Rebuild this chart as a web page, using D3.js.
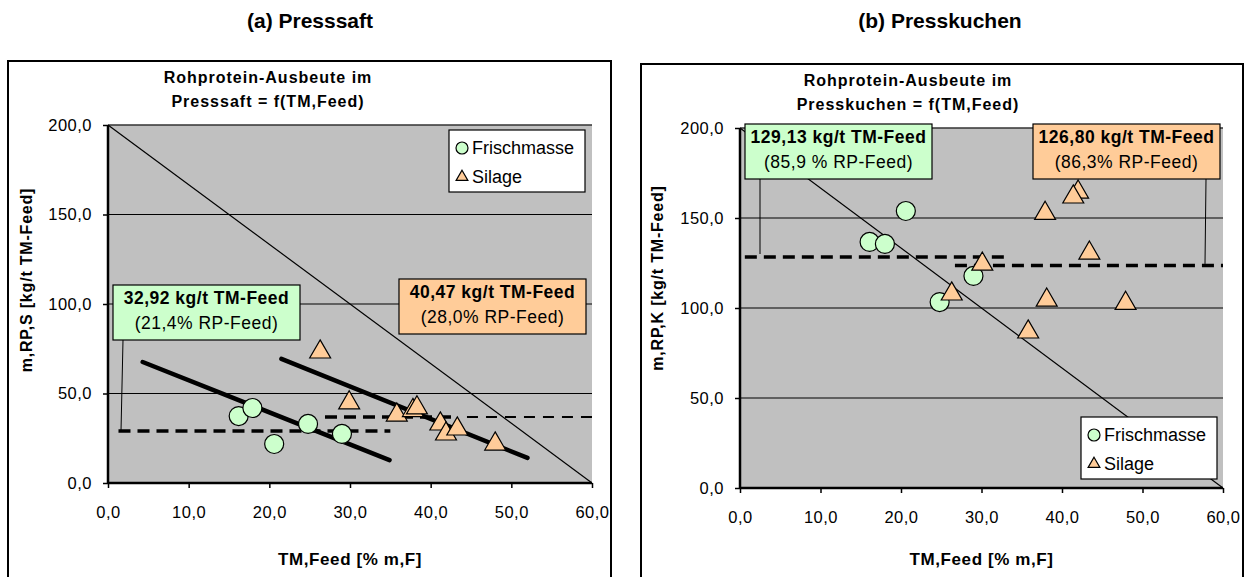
<!DOCTYPE html>
<html>
<head>
<meta charset="utf-8">
<script src="https://cdn.jsdelivr.net/npm/d3@7"></script>
<style>
  body { margin: 0; background: #fff; }
  text { font-family: "Liberation Sans", Arial, sans-serif; }
</style>
</head>
<body>
<div id="wrapper"></div>
<script>
// values
const xTicks = [0, 10, 20, 30, 40, 50, 60];
const yTicks = [0, 50, 100, 150, 200];

// (a) Presssaft
const saftFrisch = [[16.2, 37.4], [17.9, 41.9], [20.6, 21.8], [24.8, 33.0], [29.0, 27.4]];
const saftSilage = [[26.3, 73.2], [29.9, 44.8], [35.8, 38.0], [37.8, 40.5], [38.3, 42.0],
  [41.2, 33.0], [41.9, 27.4], [43.3, 30.2], [48.0, 21.8]];
const saftTrendFrisch = [[4.3, 67.6], [34.9, 12.8]];
const saftTrendSilage = [[21.5, 69.3], [52.0, 14.0]];
const saftMeanFrisch = [[1.3, 29.0], [35.0, 29.0]];
const saftMeanSilage = [[26.9, 36.9], [43.3, 36.9]];
const saftMeanSilageExt = [[44.5, 36.9], [60, 36.9]];

// (b) Presskuchen
const kuchenFrisch = [[20.6, 153.9], [16.1, 136.7], [18.0, 135.6], [29.0, 117.8], [24.8, 103.3]];
const kuchenSilage = [[42.0, 164.4], [41.4, 161.7], [37.9, 152.6], [43.4, 130.5], [30.1, 124.4],
  [26.3, 107.8], [38.1, 104.4], [47.9, 102.6], [35.8, 86.7]];
const kuchenMeanFrisch = [[0.6, 128.3], [33.5, 128.3]];
const kuchenMeanSilage = [[26.7, 123.6], [60, 123.6]];

const diagonal = [[0, 200], [60, 0]];

const green = "#ccffcc";
const orange = "#ffcc99";
const fmt = d => d3.format(".1f")(d).replace(".", ",");

const svg = d3.select("#wrapper")
  .append("svg")
  .attr("width", 1253)
  .attr("height", 577);

function drawPanel(p) {
  const g = svg.append("g");

  g.append("text")
    .attr("x", p.headX).attr("y", 28)
    .attr("text-anchor", "middle")
    .style("font-size", "21px").style("font-weight", "bold")
    .text(p.head);

  g.append("rect")
    .attr("x", p.frame[0]).attr("y", p.frame[1])
    .attr("width", p.frame[2] - p.frame[0]).attr("height", 600)
    .attr("fill", "#fff").attr("stroke", "#000").attr("stroke-width", 2);

  const x = d3.scaleLinear().domain([0, 60]).range([p.left, p.right]);
  const y = d3.scaleLinear().domain([0, 200]).range([p.bottom, p.top]);

  // chart title
  p.title.forEach((t, i) => {
    g.append("text")
      .attr("x", p.titleX).attr("y", p.titleY + i * 24)
      .attr("text-anchor", "middle")
      .style("font-size", "16px").style("font-weight", "bold")
      .style("letter-spacing", "1px")
      .text(t);
  });

  g.append("rect")
    .attr("x", x(0)).attr("y", y(200))
    .attr("width", x(60) - x(0)).attr("height", y(0) - y(200))
    .attr("fill", "#c0c0c0");

  // gridlines
  g.selectAll(".grid")
    .data(yTicks.filter(d => d > 0))
    .enter()
    .append("line")
    .attr("x1", x(0)).attr("x2", x(60))
    .attr("y1", d => y(d)).attr("y2", d => y(d))
    .attr("stroke", d => d === 200 ? "#333" : "#000")
    .attr("stroke-width", d => d === 200 ? 1.5 : 1);

  const xAxis = g.append("g")
    .attr("transform", `translate(0,${y(0)})`)
    .call(d3.axisBottom(x).tickValues(xTicks).tickFormat(fmt).tickSize(5).tickPadding(18));
  const yAxis = g.append("g")
    .attr("transform", `translate(${x(0)},0)`)
    .call(d3.axisLeft(y).tickValues(yTicks).tickFormat(fmt).tickSize(5).tickPadding(11));
  [xAxis, yAxis].forEach(a => {
    a.select(".domain").attr("stroke", "#000").attr("stroke-width", 2.5);
    a.selectAll(".tick line").attr("stroke", "#000").attr("stroke-width", 1.5);
    a.selectAll(".tick text")
      .style("font-size", "16.5px").attr("fill", "#000")
      .style("letter-spacing", "0.5px")
      .style("font-family", "'Liberation Sans', Arial, sans-serif");
  });
  xAxis.select(".domain").attr("d", `M${x(0)},0H${x(60)}`);
  yAxis.select(".domain").attr("d", `M0,${y(0)}V${y(200)}`);

  g.append("text")
    .attr("x", (x(0) + x(60)) / 2).attr("y", 565)
    .attr("text-anchor", "middle")
    .style("font-size", "17px").style("font-weight", "bold")
    .style("letter-spacing", "0.6px")
    .text("TM,Feed [% m,F]");

  g.append("text")
    .attr("transform", `translate(${p.yLabelX},${p.yLabelY}) rotate(-90)`)
    .attr("text-anchor", "middle")
    .style("font-size", "16px").style("font-weight", "bold")
    .style("letter-spacing", "0.8px")
    .text(p.yLabel);

  const line = d3.line().x(d => x(d[0])).y(d => y(d[1]));

  g.append("path").attr("d", line(diagonal))
    .attr("fill", "none").attr("stroke", "#000").attr("stroke-width", 1.2);

  p.lines.forEach(l => {
    g.append("path").attr("d", line(l.data))
      .attr("fill", "none").attr("stroke", "#000")
      .attr("stroke-width", l.w)
      .attr("stroke-dasharray", l.dash || null)
      .attr("stroke-linecap", l.dash ? "butt" : "round");
  });

  // label boxes with leader lines
  p.boxes.forEach(b => {
    if (b.leader) {
      g.append("line")
        .attr("x1", b.leader[0]).attr("y1", b.y + 55)
        .attr("x2", b.leader[1]).attr("y2", y(b.leader[2]))
        .attr("stroke", "#000").attr("stroke-width", 1);
    }
    g.append("rect")
      .attr("x", b.x).attr("y", b.y).attr("width", b.w).attr("height", 55)
      .attr("fill", b.fill).attr("stroke", "#000").attr("stroke-width", 1.2);
    g.append("text")
      .attr("x", b.x + b.w / 2).attr("y", b.y + 19)
      .attr("text-anchor", "middle")
      .style("font-size", "17.5px").style("font-weight", "bold")
      .style("letter-spacing", "0.5px")
      .text(b.t1);
    g.append("text")
      .attr("x", b.x + b.w / 2).attr("y", b.y + 44)
      .attr("text-anchor", "middle")
      .style("font-size", "17.5px")
      .style("letter-spacing", "0.5px")
      .text(b.t2);
  });

  const circle = d3.symbol().type(d3.symbolCircle).size(Math.PI * 9.5 * 9.5);
  const tri = d3.symbol().type(d3.symbolTriangle).size(190);

  g.selectAll(".frisch")
    .data(p.frisch)
    .enter()
    .append("path")
    .attr("d", circle)
    .attr("transform", d => `translate(${x(d[0])},${y(d[1])})`)
    .attr("fill", green).attr("stroke", "#000").attr("stroke-width", 1.2);

  g.selectAll(".silage")
    .data(p.silage)
    .enter()
    .append("path")
    .attr("d", tri)
    .attr("transform", d => `translate(${x(d[0])},${y(d[1])})`)
    .attr("fill", orange).attr("stroke", "#000").attr("stroke-width", 1.2);

  // legend
  const lg = g.append("g").attr("transform", `translate(${p.legend[0]},${p.legend[1]})`);
  lg.append("rect").attr("width", 136).attr("height", 62)
    .attr("fill", "#fff").attr("stroke", "#000").attr("stroke-width", 1.2);
  lg.append("path").attr("d", d3.symbol().type(d3.symbolCircle).size(Math.PI * 36))
    .attr("transform", "translate(13,18)")
    .attr("fill", green).attr("stroke", "#000").attr("stroke-width", 1.2);
  lg.append("path").attr("d", d3.symbol().type(d3.symbolTriangle).size(60))
    .attr("transform", "translate(13,47)")
    .attr("fill", orange).attr("stroke", "#000").attr("stroke-width", 1.2);
  lg.append("text").attr("x", 23).attr("y", 24).style("font-size", "18px").text("Frischmasse");
  lg.append("text").attr("x", 23).attr("y", 53).style("font-size", "18px").text("Silage");
}

drawPanel({
  head: "(a) Presssaft", headX: 310,
  frame: [8, 61, 611],
  left: 108, right: 592, top: 125, bottom: 483,
  title: ["Rohprotein-Ausbeute im", "Presssaft = f(TM,Feed)"], titleX: 268, titleY: 83,
  yLabel: "m,RP,S [kg/t TM-Feed]", yLabelX: 32, yLabelY: 280,
  frisch: saftFrisch, silage: saftSilage,
  lines: [
    { data: saftTrendFrisch, w: 4.5 },
    { data: saftTrendSilage, w: 4.5 },
    { data: saftMeanFrisch, w: 3.5, dash: "12,7" },
    { data: saftMeanSilage, w: 3.5, dash: "12,7" },
    { data: saftMeanSilageExt, w: 2, dash: "11,8" }
  ],
  boxes: [
    { x: 113, y: 285, w: 187, fill: green, t1: "32,92 kg/t TM-Feed", t2: "(21,4% RP-Feed)",
      leader: [123, 121, 29.0] },
    { x: 399, y: 279, w: 187, fill: orange, t1: "40,47 kg/t TM-Feed", t2: "(28,0% RP-Feed)" }
  ],
  legend: [449, 130]
});

drawPanel({
  head: "(b) Presskuchen", headX: 940,
  frame: [641, 64, 1243],
  left: 740, right: 1223, top: 128, bottom: 488,
  title: ["Rohprotein-Ausbeute im", "Presskuchen = f(TM,Feed)"], titleX: 908, titleY: 86,
  yLabel: "m,RP,K [kg/t TM-Feed]", yLabelX: 663, yLabelY: 278,
  frisch: kuchenFrisch, silage: kuchenSilage,
  lines: [
    { data: kuchenMeanFrisch, w: 3.5, dash: "12,7" },
    { data: kuchenMeanSilage, w: 3.5, dash: "12,7" }
  ],
  boxes: [
    { x: 745, y: 124, w: 187, fill: green, t1: "129,13 kg/t TM-Feed", t2: "(85,9 %  RP-Feed)",
      leader: [760, 760, 130] },
    { x: 1033, y: 124, w: 187, fill: orange, t1: "126,80 kg/t TM-Feed", t2: "(86,3% RP-Feed)",
      leader: [1206, 1205, 124.5] }
  ],
  legend: [1081, 417]
});
</script>
</body>
</html>
